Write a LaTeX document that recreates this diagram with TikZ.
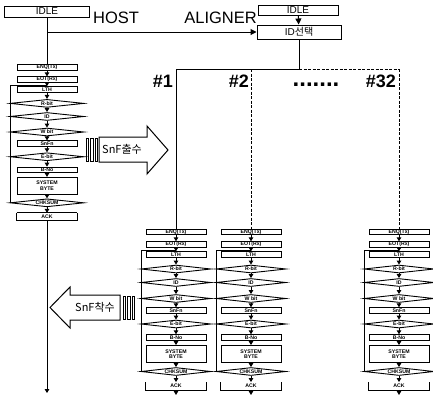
\documentclass[tikz,border=0pt]{standalone}
\usepackage{fontspec}
\setmainfont{Liberation Sans}
\newfontfamily\krfont{Noto Sans CJK KR}
\usetikzlibrary{shapes.geometric, arrows.meta}

% one SECS-I block column: name, x, y of first box, y scale, loop offset, end of arrow
\newcommand{\flowcol}[6]{%
  \begin{scope}[shift={(#2,#3)}, yscale=#4]
    \node (#1enq)  [fbox] at (0,0)     {ENQ(Tx)};
    \node (#1eot)  [fbox] at (0,12.5)  {EOT(Rx)};
    \node (#1lth)  [fbox] at (0,22.5)  {LTH};
    \node (#1rbit) [fdia, minimum width=#5*2pt] at (0,37)    {R-bit};
    \node (#1id)   [fdia, minimum width=#5*2pt] at (0,50.5)  {ID};
    \node (#1wbit) [fdia, minimum width=#5*2pt] at (0,66.5)  {W bit};
    \node (#1snfn) [fbox] at (0,78.5)  {SnFn};
    \node (#1ebit) [fdia, minimum width=#5*2pt] at (0,92)    {E-bit};
    \node (#1bno)  [fbox] at (0,105.5) {B-No};
    \node (#1sys)  [fbox, minimum height=17pt, align=center] at (0,122) {SYSTEM\\BYTE};
    \node (#1chk)  [fdia, minimum width=#5*2pt] at (0,139.5) {CHKSUM};
    \node (#1ack)  [fbox, draw=none, minimum height=7pt] at (0,154) {ACK};
    \coordinate (#1lpt) at (-#5,18);
    \coordinate (#1lpc) at (0,18);
    \coordinate (#1end) at (0,#6);
  \end{scope}
  \foreach \a/\b in {enq/eot,eot/lth,lth/rbit,rbit/id,id/wbit,wbit/snfn,snfn/ebit,ebit/bno,bno/sys,sys/chk,chk/ack}
    \draw [farrow] (#1\a) -- (#1\b);
  \draw [fline] (#1chk.west) -| (#1lpt) -- (#1lpc);
  \draw [fline] (#1ack.north west) |- (#1ack.south east) -- (#1ack.north east);
  \draw [farrow] (#1ack) -- (#1end);
}

\begin{document}
\begin{tikzpicture}[x=1pt, y=-1pt,
    fbox/.style={rectangle, draw=black, line width=0.9pt, minimum width=60pt, minimum height=5.5pt, inner sep=0pt, font=\fontsize{5.2}{5.6}\selectfont\bfseries},
    fdia/.style={diamond, draw=black, line width=0.9pt, aspect=9, minimum height=8pt, inner sep=0pt, font=\fontsize{5.2}{5.6}\selectfont\bfseries},
    farrow/.style={-{Triangle[length=4pt, width=4.5pt]}, line width=0.9pt},
    fline/.style={line width=0.9pt},
    wire/.style={line width=1pt},
    warrow/.style={-{Triangle[length=6pt, width=6pt]}, line width=1pt},
    idbox/.style={rectangle, draw=black, line width=1pt, minimum height=11pt, inner sep=0pt, font=\fontsize{10}{11}\selectfont},
    title/.style={inner sep=0pt, font=\fontsize{16.5}{18}\selectfont},
    tag/.style={inner sep=0pt, font=\fontsize{18}{20}\selectfont\bfseries},
    fat/.style={draw=black, line width=1pt, fill=white},
    bar/.style={draw=black, line width=0.8pt}
  ]
  \useasboundingbox (0,0) rectangle (433,397);

  % host and aligner headers
  \node (hidle) [idbox, minimum width=85pt] at (47,11.5) {IDLE};
  \node (host) [title, anchor=base west] at (93,23) {HOST};
  \node (aligner) [title, anchor=base east] at (257,23) {ALIGNER};
  \node (aidle) [idbox, minimum width=80pt, minimum height=10pt] at (298,10) {IDLE};
  \node (idsel) [idbox, minimum width=84pt, minimum height=14pt] at (299,32) {ID\krfont 선택};

  % columns
  \flowcol{h}{47}{67.5}{0.97}{37}{335.6}
  \draw [fline] (hack.north west) -- (hack.north east);
  \flowcol{c1}{176}{232}{1}{35}{163}
  \flowcol{c2}{251}{232}{1}{35}{163}
  \flowcol{c32}{399}{232}{1}{35}{163}

  % host -> aligner
  \coordinate (hj) at (47,32);
  \draw [wire] (hidle) -- (henq);
  \draw [warrow] (hj) -- (idsel);
  \draw [warrow] (aidle) -- (idsel);

  % aligner bus
  \coordinate (bus1) at (176,69);
  \coordinate (bus2) at (251,69);
  \coordinate (busj) at (299,69);
  \coordinate (bus32) at (399,69);
  \draw [wire] (idsel) -- (busj);
  \draw [wire] (bus1) -- (busj);
  \draw [wire, dashed, dash pattern=on 3pt off 1.5pt] (busj) -- (bus32);
  \draw [wire] (bus1) -- (c1enq);
  \draw [wire, dashed, dash pattern=on 3pt off 1.5pt] (bus2) -- (c2enq);
  \draw [wire, dashed, dash pattern=on 3pt off 1.5pt] (bus32) -- (c32enq);

  \node (n1) [tag, anchor=base east] at (173,87) {\#1};
  \node (n2) [tag, anchor=base east] at (249,87) {\#2};
  \node (n32) [tag, anchor=base east] at (396,87) {\#32};
  \node (dots) [inner sep=0pt, font=\fontsize{24}{24}\selectfont\bfseries, anchor=base] at (316,86) {.......};

  % send arrow
  \draw [fat] (99,137) -- (147,137) -- (147,126) -- (168,150) -- (147,174) -- (147,162) -- (99,162) -- cycle;
  \foreach \x in {86,90.5,95}
    \draw [bar] (\x,138) rectangle ++(2.5,23);
  \node (snfout) [font=\fontsize{11}{12}\selectfont\krfont] at (122,149.5) {SnF출수};

  % reply arrow
  \draw [fat] (120,295) -- (70,295) -- (70,287) -- (50,307.5) -- (70,328) -- (70,320) -- (120,320) -- cycle;
  \foreach \x in {123,127.5,132}
    \draw [bar] (\x,296) rectangle ++(2.5,23);
  \node (snfin) [font=\fontsize{11}{12}\selectfont\krfont] at (95,307.5) {SnF착수};
\end{tikzpicture}
\end{document}
